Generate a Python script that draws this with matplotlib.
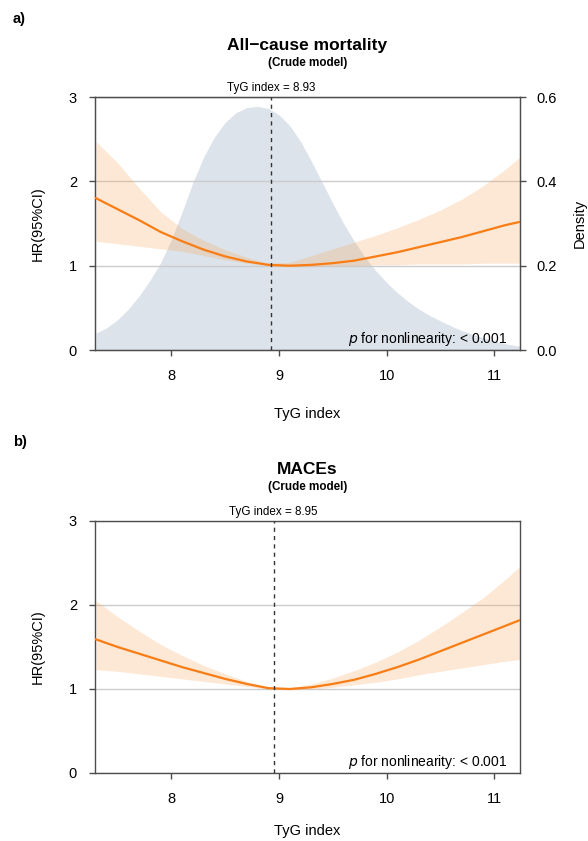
import numpy as np
import matplotlib
matplotlib.use("Agg")
import matplotlib.pyplot as plt

plt.rcParams['font.family'] = ['Liberation Sans', 'DejaVu Sans']

# TyG index grid for the spline curves
tyg = [7.3, 7.5, 7.7, 7.9, 8.1, 8.3, 8.5, 8.7, 8.9, 9.1, 9.3, 9.5, 9.7, 9.9,
       10.1, 10.3, 10.5, 10.7, 10.9, 11.1, 11.24]

# all-cause mortality (crude model)
mort_hr = [1.80, 1.67, 1.54, 1.40, 1.29, 1.19, 1.11, 1.05, 1.01, 1.00, 1.01, 1.03,
           1.06, 1.11, 1.16, 1.22, 1.28, 1.34, 1.41, 1.48, 1.52]
mort_hi = [2.47, 2.22, 1.92, 1.64, 1.44, 1.30, 1.19, 1.10, 1.03, 1.04, 1.12, 1.20,
           1.28, 1.36, 1.45, 1.55, 1.66, 1.79, 1.95, 2.14, 2.29]
mort_lo = [1.29, 1.26, 1.23, 1.20, 1.17, 1.12, 1.07, 1.03, 1.00, 0.99, 0.99, 1.00,
           1.00, 1.01, 1.01, 1.02, 1.02, 1.02, 1.03, 1.03, 1.03]

# MACEs (crude model)
mace_hr = [1.59, 1.50, 1.42, 1.34, 1.26, 1.19, 1.12, 1.06, 1.01, 1.00, 1.02, 1.06,
           1.11, 1.18, 1.26, 1.35, 1.45, 1.55, 1.65, 1.75, 1.82]
mace_hi = [2.05, 1.86, 1.69, 1.53, 1.40, 1.28, 1.18, 1.09, 1.02, 1.01, 1.06, 1.13,
           1.22, 1.32, 1.44, 1.58, 1.74, 1.91, 2.09, 2.30, 2.46]
mace_lo = [1.23, 1.21, 1.18, 1.15, 1.12, 1.09, 1.06, 1.03, 1.00, 0.99, 1.00, 1.02,
           1.05, 1.08, 1.12, 1.17, 1.21, 1.25, 1.29, 1.33, 1.35]

# TyG density (top panel)
dens_x = [7.3, 7.4, 7.5, 7.6, 7.7, 7.8, 7.9, 8.0, 8.1, 8.2, 8.3, 8.4, 8.5, 8.6,
          8.7, 8.8, 8.9, 9.0, 9.1, 9.2, 9.3, 9.4, 9.5, 9.6, 9.7, 9.8, 9.9, 10.0,
          10.1, 10.2, 10.3, 10.4, 10.5, 10.6, 10.7, 10.8, 10.9, 11.0, 11.1, 11.24]
dens_y = [0.040, 0.053, 0.072, 0.097, 0.128, 0.165, 0.207, 0.262, 0.328, 0.398,
          0.458, 0.505, 0.540, 0.563, 0.575, 0.578, 0.573, 0.558, 0.532, 0.495,
          0.448, 0.398, 0.348, 0.300, 0.258, 0.220, 0.188, 0.160, 0.136, 0.115,
          0.097, 0.082, 0.069, 0.057, 0.046, 0.037, 0.029, 0.022, 0.015, 0.009]

ref_mort = 8.93
ref_mace = 8.95

orange = '#f87d15'
band = '#f9a65a'
spine_c = '#4d4d4d'

fig = plt.figure(figsize=(5.88, 8.41), dpi=100)


def style_axes(ax, xpad):
    ax.set_xlim(7.29, 11.24)
    ax.set_ylim(0, 3)
    ax.set_yticks([0, 1, 2, 3])
    ax.set_xticks([8, 9, 10, 11])
    ax.grid(axis='y', color='#cccccc', lw=1.0)
    ax.set_axisbelow(True)
    for s in ax.spines.values():
        s.set_color(spine_c)
        s.set_linewidth(1.0)
    ax.tick_params(colors=spine_c, labelcolor='black', labelsize=10.5,
                   length=4, width=1.0)
    ax.tick_params(axis='x', pad=10)
    ax.tick_params(axis='y', pad=9)
    ax.set_xlabel('TyG index', fontsize=10.5, labelpad=xpad)
    ax.set_ylabel('HR(95%CI)', fontsize=10.5, labelpad=17)


def draw_curve(ax, hr, lo, hi, ref, title):
    ax.fill_between(tyg, lo, hi, color=band, alpha=0.25, lw=0, zorder=2)
    ax.plot(tyg, hr, color=orange, lw=1.6, zorder=3)
    ax.axvline(ref, color='#333333', lw=1.0, ls=(0, (3, 3)), zorder=4)
    ax.text(ref, 3.04, 'TyG index = %.2f' % ref, ha='center', va='bottom', fontsize=8.4)
    ax.text(11.12, 0.02, r'$\it{p}$ for nonlinearity: < 0.001', ha='right',
            va='bottom', fontsize=10, zorder=5)
    ax.text(0.5, 1.205, title, transform=ax.transAxes, ha='center', va='center',
            fontsize=12.5, fontweight='bold')
    ax.text(0.5, 1.134, '(Crude model)', transform=ax.transAxes, ha='center',
            va='center', fontsize=8.4, fontweight='bold')


# panel a
ax1 = fig.add_axes([0.1616, 0.5838, 0.7228, 0.3008])
ax1d = ax1.twinx()
ax1d.fill_between(dens_x, 0, dens_y, color='#dce3ea', lw=0)
ax1d.set_ylim(0, 0.6)
ax1d.set_yticks([0, 0.2, 0.4, 0.6])
ax1d.set_yticklabels(['0.0', '0.2', '0.4', '0.6'])
ax1d.set_ylabel('Density', fontsize=10.5)
ax1d.yaxis.set_label_coords(1.125, 0.5)
ax1d.tick_params(colors=spine_c, labelcolor='black', labelsize=10.5, length=4,
                 width=1.0, pad=8)
for s in ax1d.spines.values():
    s.set_color(spine_c)
ax1.set_zorder(ax1d.get_zorder() + 1)
ax1.patch.set_visible(False)
style_axes(ax1, 17)
draw_curve(ax1, mort_hr, mort_lo, mort_hi, ref_mort, 'All\u2212cause mortality')
fig.text(0.022, 0.978, 'a)', fontsize=10.5, fontweight='bold', va='center')

# panel b
ax2 = fig.add_axes([0.1616, 0.0809, 0.7228, 0.2996])
style_axes(ax2, 13)
draw_curve(ax2, mace_hr, mace_lo, mace_hi, ref_mace, 'MACEs')
fig.text(0.022, 0.474, 'b)', fontsize=10.5, fontweight='bold', va='center')

fig.savefig('out.png', dpi=100)
